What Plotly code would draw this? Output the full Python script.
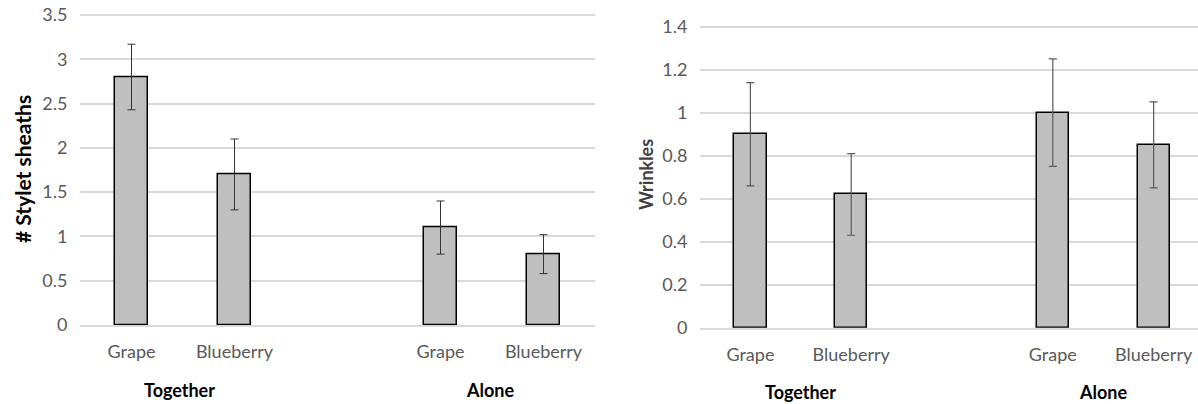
import plotly.graph_objects as go

# ---- data ----
categories = ["Grape", "Blueberry", "", "Grape", "Blueberry"]
groups = ["Together", "Alone"]

stylet_values = [2.8, 1.7, None, 1.1, 0.8]
stylet_errors = [0.37, 0.40, None, 0.30, 0.22]

wrinkle_values = [0.90, 0.62, None, 1.00, 0.85]
wrinkle_errors = [0.24, 0.19, None, 0.25, 0.20]

left_ticks = [0, 0.5, 1, 1.5, 2, 2.5, 3, 3.5]
left_ticktext = ["0", "0.5", "1", "1.5", "2", "2.5", "3", "3.5"]
right_ticks = [0, 0.2, 0.4, 0.6, 0.8, 1.0, 1.2, 1.4]
right_ticktext = ["0", "0.2", "0.4", "0.6", "0.8", "1", "1.2", "1.4"]

W, H = 1198, 404
FONT = "Lato"
GRAY_TXT = "#595959"
GRID = "#d9d9d9"

xpos = list(range(len(categories)))
label_pos = [i for i, c in enumerate(categories) if c]
label_txt = [c for c in categories if c]

fig = go.Figure()

fig.add_trace(go.Bar(
    x=xpos, y=stylet_values, width=0.32,
    marker=dict(color="#bfbfbf", line=dict(color="#000000", width=1.5)),
    error_y=dict(type="data", array=stylet_errors, color="#333333", thickness=1, width=4),
    xaxis="x", yaxis="y", showlegend=False, hoverinfo="skip"))

fig.add_trace(go.Bar(
    x=xpos, y=wrinkle_values, width=0.32,
    marker=dict(color="#bfbfbf", line=dict(color="#000000", width=1.5)),
    error_y=dict(type="data", array=wrinkle_errors, color="#595959", thickness=1.2, width=4),
    xaxis="x2", yaxis="y2", showlegend=False, hoverinfo="skip"))


def px_x(p):
    return p / W


def px_y(p):
    return 1 - p / H


common_x = dict(tickmode="array", tickvals=label_pos, ticktext=label_txt,
                tickfont=dict(family=FONT, size=18, color=GRAY_TXT),
                ticks="outside", ticklen=10, tickcolor="rgba(0,0,0,0)",
                showgrid=False, zeroline=False, showline=True, linecolor=GRID, linewidth=1.5,
                automargin=False, fixedrange=True)
common_y = dict(tickmode="array", tickfont=dict(family=FONT, size=18, color=GRAY_TXT),
                showgrid=True, gridcolor=GRID, gridwidth=1.5, zeroline=False,
                showline=False, ticks="outside", ticklen=8, tickcolor="rgba(0,0,0,0)",
                automargin=False, fixedrange=True)

# small headroom so the top gridline is not on the plot edge
LEFT_TOP, RIGHT_TOP = 3.52, 1.408
left_px_per = (325 - 15) / 3.5
right_px_per = (327.7 - 26.7) / 1.4

fig.update_layout(
    width=W, height=H,
    margin=dict(l=0, r=0, t=0, b=0, pad=0),
    paper_bgcolor="white", plot_bgcolor="white",
    bargap=0,
    xaxis=dict(domain=[px_x(80), px_x(595)], range=[-0.5, 4.5], anchor="y", **common_x),
    yaxis=dict(domain=[px_y(325), px_y(325 - LEFT_TOP * left_px_per)], range=[0, LEFT_TOP],
               anchor="x", tickvals=left_ticks, ticktext=left_ticktext, **common_y),
    xaxis2=dict(domain=[px_x(700), 1.0], range=[-0.5, 4.44], anchor="y2", **common_x),
    yaxis2=dict(domain=[px_y(327.7), px_y(327.7 - RIGHT_TOP * right_px_per)], range=[0, RIGHT_TOP],
                anchor="x2", tickvals=right_ticks, ticktext=right_ticktext, **common_y),
)

bold_black = dict(family=FONT, size=18, color="#000000", weight="bold")
annotations = [
    dict(text="# Stylet sheaths", x=px_x(23), y=px_y(169), textangle=-90,
         font=dict(family=FONT, size=21, color="#000000", weight="bold")),
    dict(text="Wrinkles", x=px_x(646), y=px_y(175), textangle=-90,
         font=dict(family=FONT, size=18, color="#404040", weight="bold")),
    dict(text="Together", x=px_x(179), y=px_y(390), font=bold_black),
    dict(text="Alone", x=px_x(490), y=px_y(390), font=bold_black),
    dict(text="Together", x=px_x(800), y=px_y(392), font=bold_black),
    dict(text="Alone", x=px_x(1103), y=px_y(392), font=bold_black),
]
for a in annotations:
    a.update(xref="paper", yref="paper", showarrow=False, xanchor="center", yanchor="middle")
fig.update_layout(annotations=annotations)

fig.write_html("out.html", config={"displayModeBar": False},
               post_script="document.body.style.margin='0px';")
